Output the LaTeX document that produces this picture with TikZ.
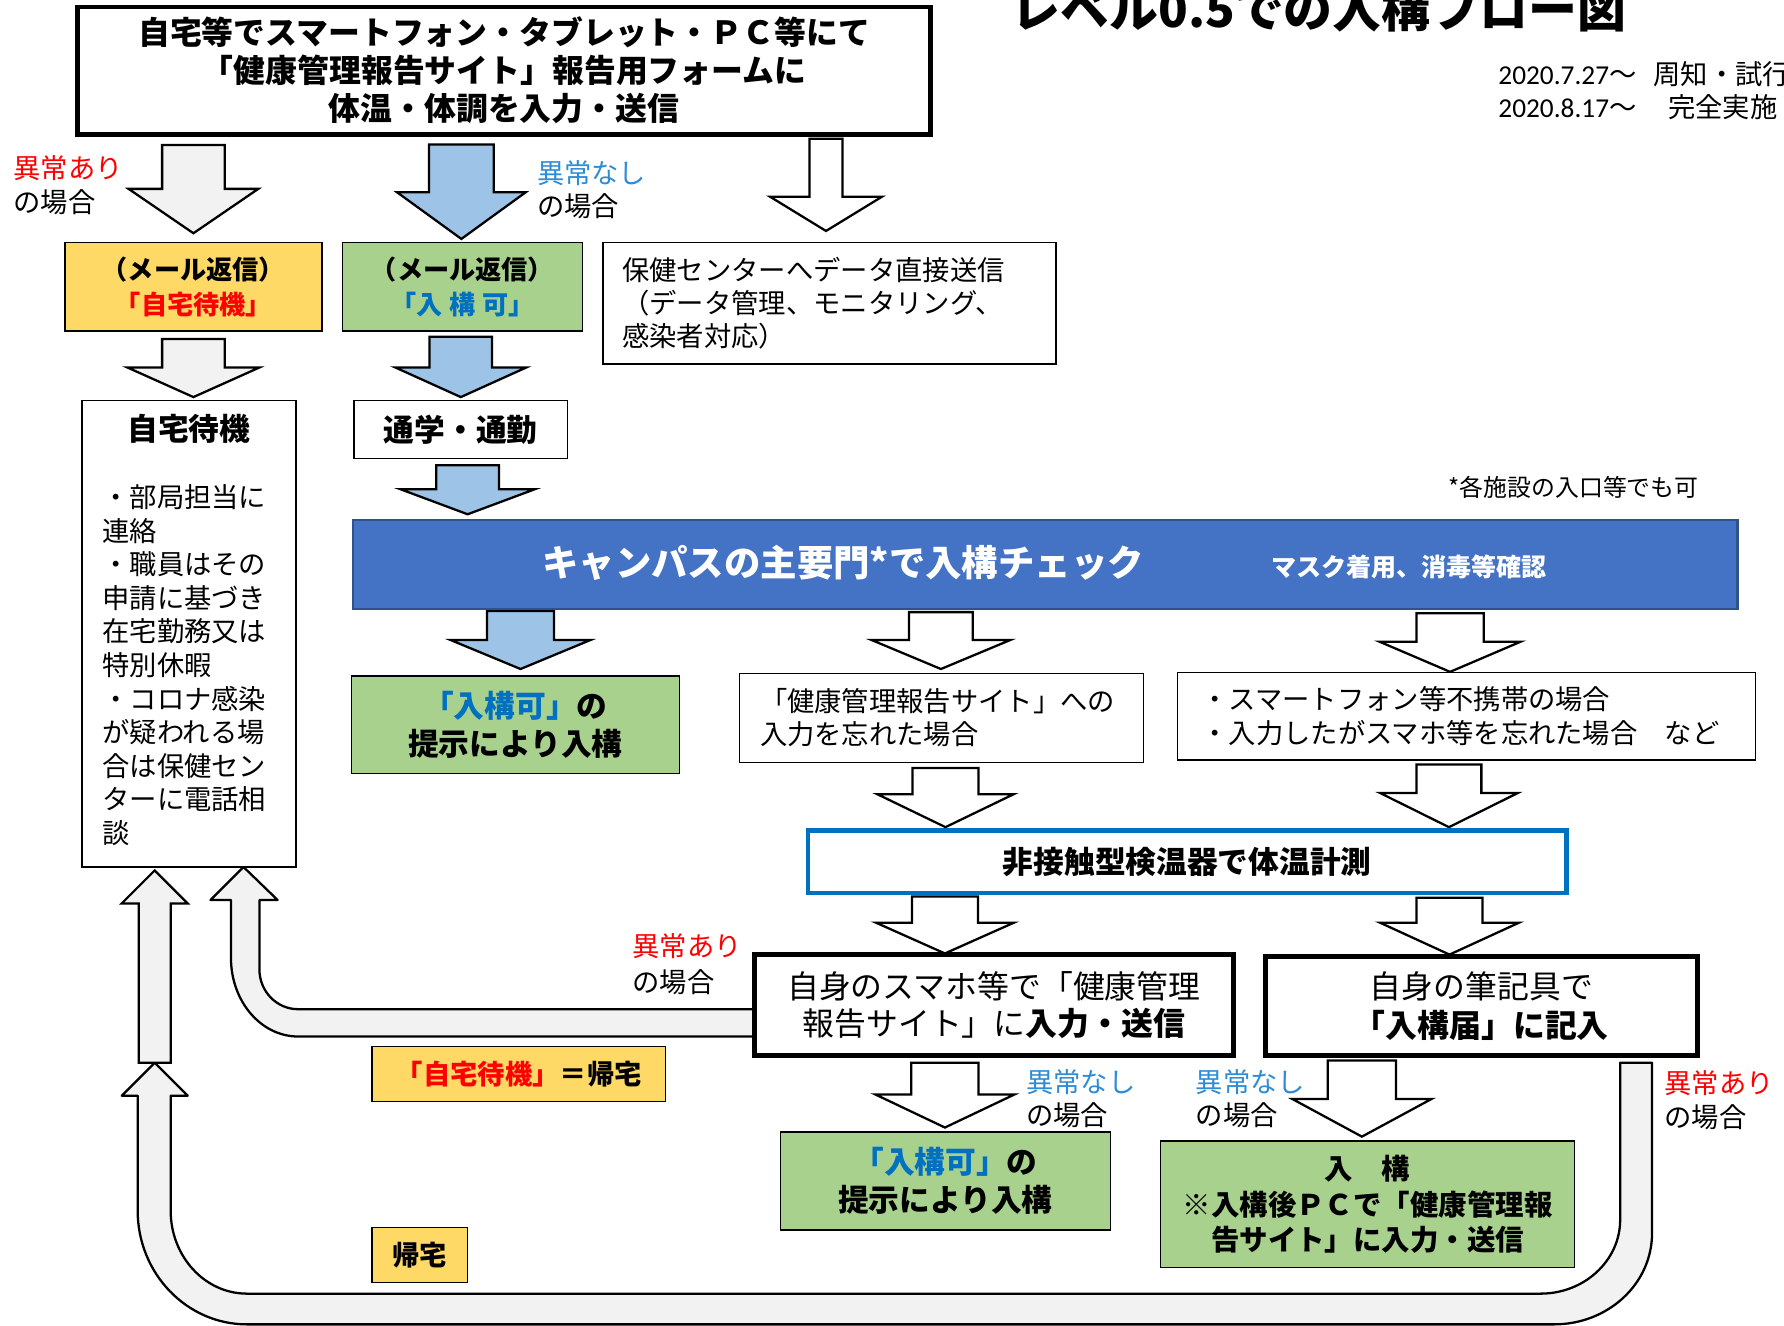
\documentclass[tikz,border=0pt]{standalone}
\usepackage{fontspec}
\setmainfont{Noto Sans CJK JP}
\newfontfamily\lat{Carlito}
\definecolor{ygold}{HTML}{FFD966}
\definecolor{lgreen}{HTML}{A9D18E}
\definecolor{lblue}{HTML}{9DC3E6}
\definecolor{mblue}{HTML}{4472C4}
\definecolor{dblue}{HTML}{2F528F}
\definecolor{tblue}{HTML}{0070C0}
\definecolor{nblue}{HTML}{2E8BD6}
\definecolor{lgray}{HTML}{F2F2F2}
\definecolor{jred}{HTML}{FF0000}
\newcommand\darr[7]{%
  \filldraw[arrowline, fill=#7] (#1-#3,#2) -- (#1+#3,#2) -- (#1+#3,#4) -- (#1+#5,#4) -- (#1,#6) -- (#1-#5,#4) -- (#1-#3,#4) -- cycle;}
\begin{document}
\begin{tikzpicture}[x=1pt,y=-1pt,
  every node/.style={inner sep=0pt,outer sep=0pt},
  thinbox/.style={draw=black,line width=1.3pt,align=center},
  thickbox/.style={draw=black,line width=4.5pt,align=center,fill=white},
  arrowline/.style={draw=black,line width=2pt,line join=miter},
  band/.style={draw=black,line width=2pt,fill=lgray,line join=round},
  lbl/.style={anchor=west,align=left,font=\fontsize{24}{30}\selectfont}]
\useasboundingbox (0,0) rectangle (1568,1165);

% title and dates
\node[anchor=base west,font=\fontsize{43}{43}\selectfont\bfseries] (title) at (889,24) {レベル0.5での入構フロー図};
\node[anchor=west,font=\fontsize{24}{24}\selectfont] (date1) at (1317,65) {{\lat 2020.7.27}～\hspace{15pt}周知・試行};
\node[anchor=west,font=\fontsize{24}{24}\selectfont] (date2) at (1317,94) {{\lat 2020.8.17}～\hspace{28pt}完全実施};

% return bands
\filldraw[band] (663,887) -- (262,887) .. controls (243.2,887) and (228,871.3) .. (228,852) -- (228,791) -- (244,791) -- (214,762) -- (185,791) -- (203,791) -- (203,842) .. controls (203,880.1) and (229.4,911) .. (262,911) -- (663,911) -- cycle;
\filldraw[band] (1424,934) -- (1452,934) -- (1452,1084) .. controls (1452,1128.2) and (1413.5,1164) .. (1366,1164) -- (217,1164) .. controls (164,1164) and (121,1119.2) .. (121,1064) -- (121,963) -- (107,963) -- (136,934) -- (165,963) -- (150,963) -- (150,1064) .. controls (150,1104.3) and (180,1137) .. (217,1137) -- (1354,1137) .. controls (1392.6,1137) and (1424,1107.9) .. (1424,1072) -- cycle;
\darr{136}{934}{14}{794}{29}{765}{lgray}

% block arrows
\darr{170}{127.5}{27.5}{166}{57}{205}{lgray}
\darr{405.5}{127}{28.5}{169}{56.5}{210}{lblue}
\darr{726}{122}{14.5}{173}{49}{203}{white}
\darr{170}{298}{27.5}{323}{58}{349}{lgray}
\darr{405}{296}{27.5}{323}{57.5}{349}{lblue}
\darr{411}{409}{27.5}{430}{59}{452}{lblue}
\darr{457.5}{537}{29.5}{562.5}{61.5}{588}{lblue}
\darr{827}{538}{28}{562.5}{61}{588}{white}
\darr{1274.5}{539}{29.5}{564}{62}{590.5}{white}
\darr{831}{675}{29}{698}{60}{727}{white}
\darr{1273.5}{672}{28.5}{697}{60.5}{727}{white}
\darr{830.5}{788}{29}{811}{60.5}{838}{white}
\darr{1274}{789}{29}{811}{61}{839}{white}
\darr{830.5}{934}{29.5}{962}{61}{991}{white}
\darr{1197}{932}{30}{966}{61}{999}{white}

% boxes
\node[thickbox,line width=4pt,minimum width=750,minimum height=112,font=\fontsize{28}{33.5}\selectfont\bfseries] (top) at (443,62) {自宅等でスマートフォン・タブレット・ＰＣ等にて\\「健康管理報告サイト」報告用フォームに\\体温・体調を入力・送信};
\node[thinbox,fill=ygold,minimum width=226,minimum height=78,font=\fontsize{23}{31}\selectfont\bfseries] (mailA) at (170,252) {（メール返信）\\\textcolor{jred}{「自宅待機」}};
\node[thinbox,fill=lgreen,minimum width=211,minimum height=78,font=\fontsize{23}{31}\selectfont\bfseries] (mailB) at (406.5,252) {（メール返信）\\\textcolor{tblue}{「入\hspace{.25em}構\hspace{.25em}可」}};
\node[thinbox,align=left,minimum width=398,minimum height=107,text width=364,inner xsep=17,font=\fontsize{24}{29}\selectfont] (hc) at (729,266.5) {保健センターへデータ直接送信\\（データ管理、モニタリング、\\感染者対応）};

\node[thinbox,minimum width=188,minimum height=410] (jt) at (166,557) {};
\node[font=\fontsize{27}{27}\selectfont\bfseries] (jtTitle) at (166,377) {自宅待機};
\node[anchor=north west,align=left,font=\fontsize{24}{29.5}\selectfont] (jtBody) at (90,426) {・部局担当に\\連絡\\・職員はその\\申請に基づき\\在宅勤務又は\\特別休暇\\・コロナ感染\\が疑われる場\\合は保健セン\\ターに電話相\\談};

\node[thinbox,minimum width=188,minimum height=51,font=\fontsize{27}{27}\selectfont\bfseries] (commute) at (405,377.5) {通学・通勤};

\node[draw=dblue,line width=2pt,fill=mblue,minimum width=1217,minimum height=78] (gate) at (918.5,496) {};
\node[text=white,font=\fontsize{32}{32}\selectfont\bfseries] (gateT) at (741,495) {キャンパスの主要門*で入構チェック};
\node[text=white,font=\fontsize{22}{22}\selectfont\bfseries] (gateS) at (1238.5,498) {マスク着用、消毒等確認};
\node[font=\fontsize{21}{21}\selectfont] (note) at (1383,428) {*各施設の入口等でも可};

\node[thinbox,fill=lgreen,minimum width=288,minimum height=86,font=\fontsize{27}{34}\selectfont\bfseries] (okA) at (453,637) {\textcolor{tblue}{「入構可」}の\\提示により入構};
\node[thinbox,align=left,minimum width=355,minimum height=78,text width=319,inner xsep=18,font=\fontsize{24}{29}\selectfont] (forgot) at (827.5,631) {「健康管理報告サイト」への\\入力を忘れた場合};
\node[thinbox,align=left,minimum width=508,minimum height=77,text width=466,inner xsep=21,font=\fontsize{24}{30}\selectfont] (nophone) at (1289,629.5) {・スマートフォン等不携帯の場合\\・入力したがスマホ等を忘れた場合　など};

\node[draw=tblue,line width=4pt,fill=white,minimum width=667,minimum height=55,font=\fontsize{27}{27}\selectfont\bfseries] (thermo) at (1043.5,757.5) {非接触型検温器で体温計測};

\node[thickbox,minimum width=421,minimum height=89,font=\fontsize{28}{33}\selectfont] (phone) at (873.5,883.5) {自身のスマホ等で「健康管理\\報告サイト」に\textbf{入力・送信}};
\node[thickbox,minimum width=380,minimum height=87,font=\fontsize{28}{34}\selectfont] (pen) at (1302,884.5) {自身の筆記具で\\\textbf{「入構届」に記入}};

\node[thinbox,fill=ygold,minimum width=258,minimum height=48,font=\fontsize{24}{24}\selectfont\bfseries] (stayHome) at (456,944) {\textcolor{jred}{「自宅待機」}＝帰宅};
\node[thinbox,fill=ygold,minimum width=84,minimum height=48,font=\fontsize{24}{24}\selectfont\bfseries] (home) at (369,1103) {帰宅};

\node[thinbox,fill=lgreen,minimum width=290,minimum height=86,font=\fontsize{27}{33}\selectfont\bfseries] (okB) at (831,1038) {\textcolor{tblue}{「入構可」}の\\提示により入構};
\node[thinbox,fill=lgreen,minimum width=364,minimum height=111,font=\fontsize{25}{31}\selectfont\bfseries] (enter) at (1202,1058.5) {入　構\\※入構後ＰＣで「健康管理報\\告サイト」に入力・送信};

% labels
\node[lbl] (lab1) at (12,163) {\textcolor{jred}{異常あり}\\の場合};
\node[lbl,font=\fontsize{24}{29}\selectfont] (lab2) at (472,166.5) {\textcolor{nblue}{異常なし}\\の場合};
\node[lbl,font=\fontsize{24}{31}\selectfont] (lab3) at (556,847.5) {\textcolor{jred}{異常あり}\\の場合};
\node[lbl,font=\fontsize{24}{29}\selectfont] (lab4) at (902,965.5) {\textcolor{nblue}{異常なし}\\の場合};
\node[lbl,font=\fontsize{24}{29}\selectfont] (lab5) at (1051,965.5) {\textcolor{nblue}{異常なし}\\の場合};
\node[lbl] (lab6) at (1463,967) {\textcolor{jred}{異常あり}\\の場合};
\end{tikzpicture}
\end{document}
